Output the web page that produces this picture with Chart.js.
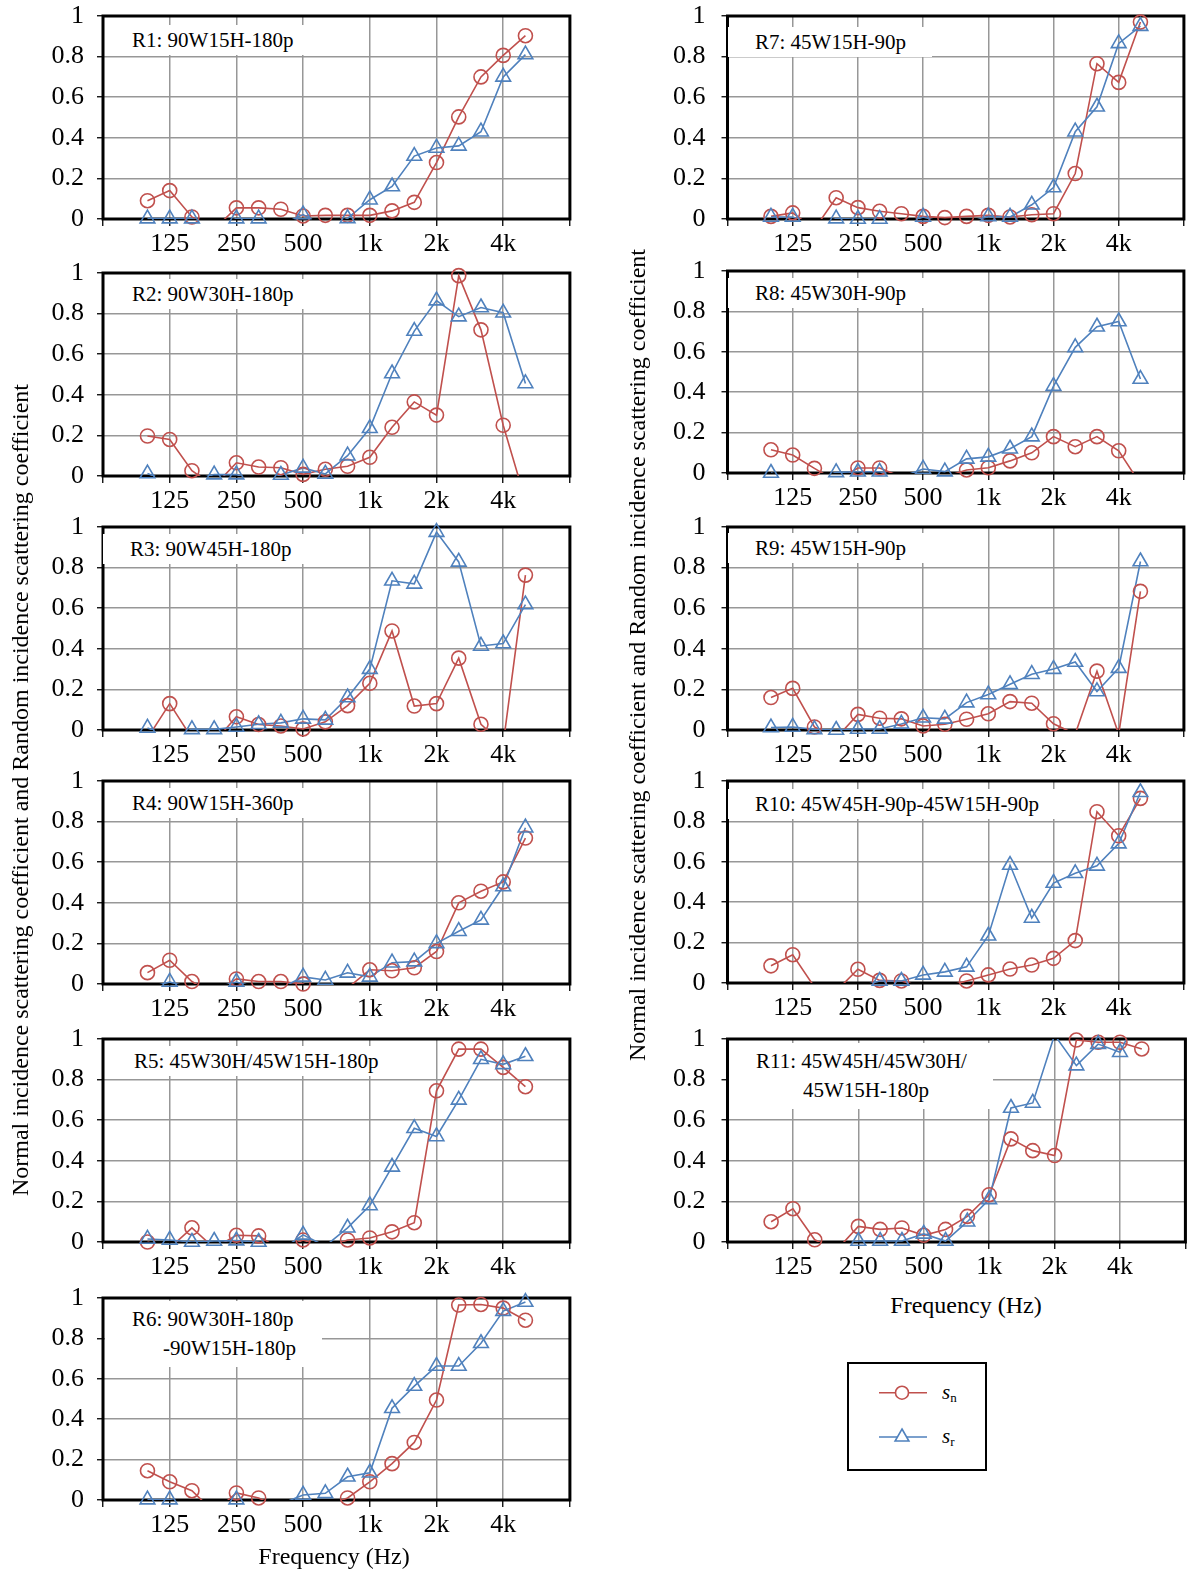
<!DOCTYPE html>
<html>
<head>
  <meta charset="utf-8">
  <title>Scattering coefficients R1-R11</title>
  <script src="https://cdn.jsdelivr.net/npm/chart.js"></script>
  <style>
    body { margin: 0; background: #fff; font-family: 'Liberation Serif', 'Times New Roman', serif; color: #000; }
    #page { position: relative; width: 1194px; height: 1570px; overflow: hidden; }
    #page canvas { position: absolute; }
    .tag { position: absolute; background: #fff; font-size: 21px; line-height: 26px; padding: 2px 26px 2px 27px; white-space: nowrap; }
    .tag.two { line-height: 29px; padding: 4px 26px 4px 27px; }
    .tag span { display: block; }
    .ytitle { position: absolute; width: 900px; height: 28px; line-height: 28px; text-align: center; font-size: 24px; transform: rotate(-90deg); white-space: nowrap; }
    .xtitle { position: absolute; width: 300px; text-align: center; font-size: 24px; line-height: 28px; }
    #legend { position: absolute; left: 847px; top: 1362px; width: 136px; height: 105px; border: 2px solid #000; }
    .leg { position: absolute; font-size: 21px; line-height: 26px; font-style: italic; }
    .leg sub { font-style: normal; font-size: 13px; vertical-align: -3px; }
  </style>
</head>
<body>
<div id="page"></div>

<script>
  // Bandas de 1/3 de oitava (100 Hz .. 5 kHz), eixo x = indice da banda
  const bands = ['100', '125', '160', '200', '250', '315', '400', '500', '630', '800',
                 '1k', '1.25k', '1.6k', '2k', '2.5k', '3.15k', '4k', '5k'];
  const xTicks = [-2, 1, 4, 7, 10, 13, 16, 19];
  const xTickLabels = ['', '125', '250', '500', '1k', '2k', '4k', ''];
  const yTicks = [0, 0.2, 0.4, 0.6, 0.8, 1];
  const yTickLabels = ['0', '0.2', '0.4', '0.6', '0.8', '1'];

  // s_n (normal) e s_r (random) por painel
  const r1Sn = [0.09, 0.14, 0.01, -0.05, 0.055, 0.055, 0.048, 0.015, 0.018, 0.018, 0.018, 0.04, 0.082, 0.278, 0.503, 0.70, 0.806, 0.903];
  const r1Sr = [0.002, 0.002, 0.002, -0.03, 0.002, 0.002, -0.03, 0.022, -0.04, 0.003, 0.095, 0.16, 0.31, 0.35, 0.36, 0.43, 0.70, 0.81];
  const r2Sn = [0.197, 0.18, 0.026, -0.05, 0.065, 0.044, 0.041, 0.008, 0.033, 0.048, 0.092, 0.24, 0.365, 0.30, 0.987, 0.72, 0.25, -0.12];
  const r2Sr = [0.012, -0.03, -0.02, 0.007, 0.007, -0.03, 0.005, 0.04, 0.01, 0.1, 0.235, 0.505, 0.714, 0.864, 0.785, 0.83, 0.804, 0.456];
  const r3Sn = [-0.04, 0.13, -0.04, -0.06, 0.065, 0.027, 0.02, 0.005, 0.04, 0.12, 0.23, 0.488, 0.118, 0.13, 0.354, 0.028, -0.07, 0.763];
  const r3Sr = [0.01, -0.03, 0.003, 0.003, 0.015, 0.028, 0.035, 0.055, 0.05, 0.16, 0.30, 0.735, 0.72, 0.975, 0.828, 0.414, 0.426, 0.618];
  const r4Sn = [0.056, 0.117, 0.012, -0.05, 0.025, 0.012, 0.012, 0.0, -0.05, -0.02, 0.07, 0.065, 0.08, 0.16, 0.40, 0.457, 0.503, 0.719];
  const r4Sr = [-0.02, 0.01, -0.02, -0.02, 0.01, -0.02, -0.02, 0.035, 0.02, 0.055, 0.035, 0.105, 0.11, 0.2, 0.26, 0.316, 0.48, 0.77];
  const r5Sn = [0.0, -0.03, 0.07, -0.03, 0.033, 0.03, -0.04, 0.01, -0.03, 0.01, 0.02, 0.05, 0.095, 0.745, 0.95, 0.95, 0.86, 0.765];
  const r5Sr = [0.015, 0.01, 0.0, 0.005, 0.007, 0.0, -0.04, 0.035, -0.02, 0.07, 0.18, 0.37, 0.56, 0.52, 0.70, 0.90, 0.875, 0.915];
  const r6Sn = [0.145, 0.09, 0.046, -0.06, 0.035, 0.01, -0.04, -0.03, -0.03, 0.01, 0.09, 0.18, 0.285, 0.495, 0.965, 0.968, 0.95, 0.89];
  const r6Sr = [0.002, 0.002, -0.02, -0.02, 0.002, -0.02, -0.02, 0.025, 0.033, 0.115, 0.135, 0.454, 0.564, 0.663, 0.663, 0.776, 0.935, 0.98];
  const r7Sn = [0.013, 0.03, -0.05, 0.105, 0.056, 0.038, 0.026, 0.013, 0.007, 0.013, 0.018, 0.01, 0.021, 0.026, 0.224, 0.765, 0.673, 0.97];
  const r7Sr = [0.01, 0.01, -0.03, 0.002, 0.0, 0.0, -0.03, 0.01, -0.02, -0.02, 0.013, 0.01, 0.07, 0.155, 0.43, 0.553, 0.865, 0.95];
  const r8Sn = [0.115, 0.089, 0.023, -0.04, 0.025, 0.025, -0.02, -0.02, -0.02, 0.015, 0.026, 0.06, 0.10, 0.18, 0.13, 0.18, 0.11, -0.055];
  const r8Sr = [0.0, -0.03, -0.03, 0.003, 0.006, 0.006, -0.02, 0.02, 0.007, 0.07, 0.08, 0.12, 0.18, 0.43, 0.622, 0.724, 0.75, 0.465];
  const r9Sn = [0.16, 0.205, 0.015, -0.04, 0.077, 0.058, 0.055, 0.02, 0.028, 0.053, 0.08, 0.14, 0.132, 0.031, -0.02, 0.29, -0.02, 0.683];
  const r9Sr = [0.012, 0.015, 0.003, 0.0, 0.005, 0.005, 0.03, 0.06, 0.055, 0.135, 0.175, 0.225, 0.275, 0.30, 0.335, 0.19, 0.305, 0.83];
  const r10Sn = [0.085, 0.14, -0.02, -0.04, 0.068, 0.013, 0.01, -0.02, -0.02, 0.01, 0.04, 0.069, 0.089, 0.122, 0.21, 0.848, 0.729, 0.914];
  const r10Sr = [-0.02, -0.02, -0.02, -0.02, -0.02, 0.01, 0.01, 0.04, 0.055, 0.08, 0.234, 0.584, 0.322, 0.495, 0.543, 0.58, 0.69, 0.944];
  const r11Sn = [0.10, 0.164, 0.011, -0.04, 0.077, 0.062, 0.069, 0.033, 0.062, 0.126, 0.233, 0.508, 0.45, 0.426, 0.995, 0.984, 0.984, 0.951];
  const r11Sr = [-0.02, -0.02, -0.02, -0.02, 0.005, 0.005, 0.005, 0.04, 0.005, 0.10, 0.21, 0.66, 0.685, 1.02, 0.869, 0.975, 0.935, 1.15];

  const RED = '#c0504d';
  const BLUE = '#4f81bd';
  const GRID = '#979797';
  const FONT = "'Liberation Serif', 'Times New Roman', serif";

  // colunas: posicao do canvas, largura do eixo y
  const cols = [
    { x: 0, w: 580, yw: 103, padR: 10, tickPad: 13 },
    { x: 620, w: 574, yw: 107.5, padR: 2, tickPad: 16 }
  ];

  // paineis: coluna, topo e base da area de plotagem, rotulo (x do texto, y central)
  const panels = [
    { col: 0, top: 16, bottom: 218.7, sn: r1Sn, sr: r1Sr, tag: ['R1: 90W15H-180p'], tx: 132, ty: 40 },
    { col: 0, top: 272.7, bottom: 475.3, sn: r2Sn, sr: r2Sr, tag: ['R2: 90W30H-180p'], tx: 132, ty: 294 },
    { col: 0, top: 526.7, bottom: 729.3, sn: r3Sn, sr: r3Sr, tag: ['R3: 90W45H-180p'], tx: 130, ty: 549 },
    { col: 0, top: 781.3, bottom: 984, sn: r4Sn, sr: r4Sr, tag: ['R4: 90W15H-360p'], tx: 132, ty: 803 },
    { col: 0, top: 1038.7, bottom: 1241.3, sn: r5Sn, sr: r5Sr, tag: ['R5: 45W30H/45W15H-180p'], tx: 134, ty: 1061 },
    { col: 0, top: 1298, bottom: 1500, sn: r6Sn, sr: r6Sr, tag: ['R6: 90W30H-180p', '-90W15H-180p'], tx: 132, ty: 1319, indent: 31 },
    { col: 1, top: 16, bottom: 218.7, sn: r7Sn, sr: r7Sr, tag: ['R7: 45W15H-90p'], tx: 755, ty: 42 },
    { col: 1, top: 270.7, bottom: 472.7, sn: r8Sn, sr: r8Sr, tag: ['R8: 45W30H-90p'], tx: 755, ty: 293 },
    { col: 1, top: 526.7, bottom: 729.3, sn: r9Sn, sr: r9Sr, tag: ['R9: 45W15H-90p'], tx: 755, ty: 548 },
    { col: 1, top: 781.3, bottom: 983.3, sn: r10Sn, sr: r10Sr, tag: ['R10: 45W45H-90p-45W15H-90p'], tx: 755, ty: 804 },
    { col: 1, top: 1038.7, bottom: 1242, sn: r11Sn, sr: r11Sr, tag: ['R11: 45W45H/45W30H/', '45W15H-180p'], tx: 756, ty: 1061, indent: 47 }
  ];

  const page = document.getElementById('page');

  // moldura preta da area de plotagem
  const frame = {
    id: 'frame',
    beforeDatasetsDraw(chart) {
      const { ctx, chartArea: a } = chart;
      ctx.save();
      ctx.strokeStyle = '#000';
      ctx.lineWidth = 3;
      ctx.strokeRect(a.left, a.top, a.right - a.left, a.bottom - a.top);
      ctx.restore();
    }
  };

  function toPoints(vals) {
    return vals.map((v, i) => ({ x: i, y: v }));
  }

  function lineSet(vals, color) {
    return {
      data: toPoints(vals), borderColor: color, borderWidth: 1.6,
      pointRadius: 0, tension: 0, clip: 0
    };
  }

  function markSet(vals, color, style, r) {
    return {
      data: toPoints(vals), showLine: false, clip: false,
      pointStyle: style, borderColor: color, backgroundColor: 'rgba(255,255,255,0)',
      pointBorderWidth: 1.6,
      pointRadius: c => (c.raw.y < 0 || c.raw.y > 1 ? 0 : r)
    };
  }

  panels.forEach(p => {
    const col = cols[p.col];
    const padTop = 16, xh = 40;
    const h = Math.round(padTop + (p.bottom - p.top) + xh);
    const canvas = document.createElement('canvas');
    canvas.width = col.w;
    canvas.height = h;
    canvas.style.left = col.x + 'px';
    canvas.style.top = (p.top - padTop) + 'px';
    page.appendChild(canvas);

    new Chart(canvas, {
      type: 'line',
      data: {
        datasets: [
          markSet(p.sr, BLUE, 'triangle', 8.5),
          markSet(p.sn, RED, 'circle', 7),
          lineSet(p.sr, BLUE),
          lineSet(p.sn, RED)
        ]
      },
      options: {
        responsive: false,
        animation: false,
        events: [],
        layout: { padding: { left: 0, right: col.padR, top: padTop, bottom: 0 } },
        plugins: { legend: { display: false }, tooltip: { enabled: false } },
        scales: {
          x: {
            type: 'linear', min: -2, max: 19,
            afterBuildTicks: s => { s.ticks = xTicks.map(v => ({ value: v })); },
            afterFit: s => { s.height = xh; s.paddingLeft = 0; s.paddingRight = 0; },
            border: { display: false },
            grid: { color: GRID, lineWidth: 1.5, tickColor: '#000', tickLength: 7, tickWidth: 1.3 },
            ticks: {
              autoSkip: false, maxRotation: 0, padding: 3, color: '#000',
              font: { family: FONT, size: 26 },
              callback: (v, i) => xTickLabels[i]
            }
          },
          y: {
            min: 0, max: 1,
            afterBuildTicks: s => { s.ticks = yTicks.map(v => ({ value: v })); },
            afterFit: s => { s.width = col.yw; s.paddingTop = 0; s.paddingBottom = 0; },
            border: { display: false },
            grid: { color: GRID, lineWidth: 1.5, tickColor: '#000', tickLength: 6, tickWidth: 1.3 },
            ticks: {
              padding: col.tickPad, color: '#000',
              font: { family: FONT, size: 26 },
              callback: (v, i) => yTickLabels[i]
            }
          }
        }
      },
      plugins: [frame]
    });

    // rotulo do painel, com fundo branco
    const two = p.tag.length > 1;
    const tag = document.createElement('div');
    tag.className = two ? 'tag two' : 'tag';
    tag.style.left = (p.tx - 27) + 'px';
    tag.style.top = Math.max(p.top + 2, p.ty - (two ? 18.5 : 15)) + 'px';
    p.tag.forEach((t, k) => {
      const s = document.createElement('span');
      s.textContent = t;
      if (k > 0) s.style.marginLeft = p.indent + 'px';
      tag.appendChild(s);
    });
    page.appendChild(tag);
  });

  // titulos dos eixos
  const yTitle = 'Normal incidence scattering coefficient and Random incidence scattering coefficient';
  [[20, 790], [637, 655]].forEach(([cx, cy]) => {
    const d = document.createElement('div');
    d.className = 'ytitle';
    d.textContent = yTitle;
    d.style.left = (cx - 450) + 'px';
    d.style.top = (cy - 14) + 'px';
    page.appendChild(d);
  });
  [[334, 1556], [966, 1305]].forEach(([cx, cy]) => {
    const d = document.createElement('div');
    d.className = 'xtitle';
    d.textContent = 'Frequency (Hz)';
    d.style.left = (cx - 150) + 'px';
    d.style.top = (cy - 14) + 'px';
    page.appendChild(d);
  });

  // legenda
  page.insertAdjacentHTML('beforeend', `
    <div id="legend"></div>
    <svg style="position:absolute;left:870px;top:1380px" width="70" height="70">
      <line x1="9" y1="12.7" x2="57" y2="12.7" stroke="${RED}" stroke-width="1.5"/>
      <circle cx="32" cy="12.7" r="6.5" fill="#fff" stroke="${RED}" stroke-width="1.6"/>
      <line x1="9" y1="57" x2="57" y2="57" stroke="${BLUE}" stroke-width="1.5"/>
      <polygon points="32,49 38.9,61 25.1,61" fill="#fff" stroke="${BLUE}" stroke-width="1.6"/>
    </svg>
    <div class="leg" style="left:942px;top:1379px">s<sub>n</sub></div>
    <div class="leg" style="left:942px;top:1423px">s<sub>r</sub></div>
  `);
</script>
</body>
</html>
